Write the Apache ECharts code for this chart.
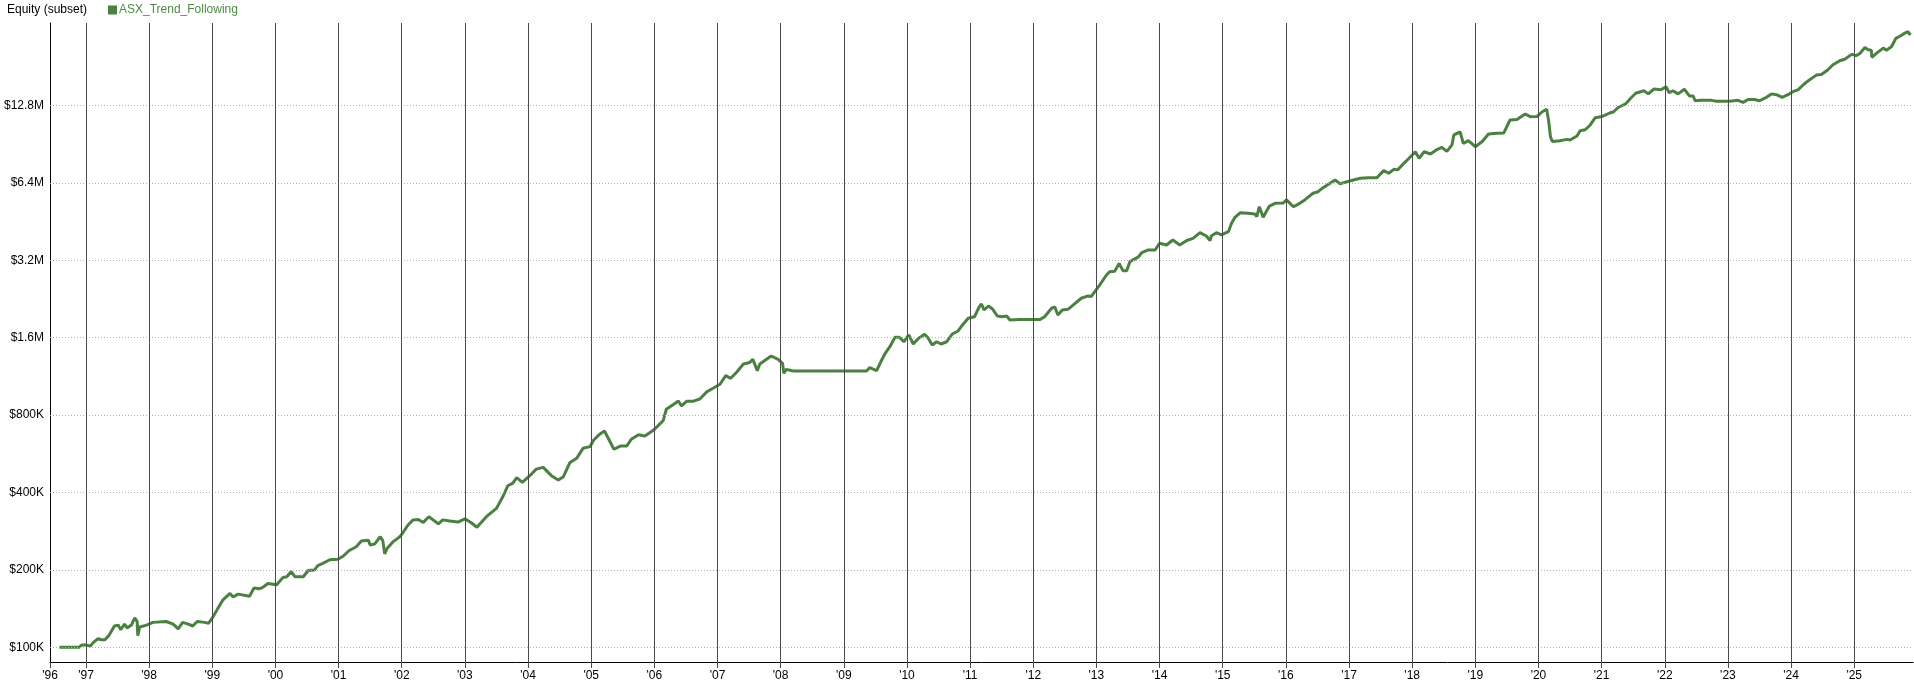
<!DOCTYPE html>
<html>
<head>
<meta charset="utf-8">
<script src="https://cdn.jsdelivr.net/npm/echarts@6/dist/echarts.min.js"></script>
<style>
html,body{margin:0;padding:0;background:#fff;}
#chart{width:1914px;height:684px;}
</style>
</head>
<body>
<div id="chart"></div>
<script>
// ---- data (decimal year, equity in $K) ----
const years = [
1996.58,1996.89,1996.93,1997.01,1997.07,1997.11,1997.19,1997.24,1997.30,1997.36,1997.45,1997.51,1997.55,1997.61,1997.65,1997.72,1997.77,1997.81,1997.82,1997.85,1997.96,
1998.06,1998.27,1998.38,1998.46,1998.53,1998.62,1998.69,1998.76,1998.88,1998.94,
1999.01,1999.09,1999.17,1999.28,1999.33,1999.41,1999.59,1999.66,1999.75,1999.80,1999.88,
2000.02,2000.12,2000.18,2000.25,2000.31,2000.44,2000.52,2000.62,2000.67,2000.75,2000.86,2000.99,
2001.07,2001.17,2001.28,2001.36,2001.47,2001.50,2001.57,2001.66,2001.70,2001.73,2001.77,2001.86,2001.97,
2002.03,2002.10,2002.18,2002.26,2002.34,2002.43,2002.58,2002.65,2002.76,2002.89,
2003.00,2003.10,2003.19,2003.34,2003.50,2003.60,2003.68,2003.76,2003.82,2003.91,
2004.04,2004.13,2004.24,2004.37,2004.48,2004.56,2004.66,2004.77,2004.87,2004.98,
2005.04,2005.14,2005.21,2005.27,2005.36,2005.46,2005.56,2005.64,2005.75,2005.85,2005.99,
2006.14,2006.19,2006.33,2006.38,2006.43,2006.51,2006.61,2006.72,2006.83,2006.93,
2007.04,2007.13,2007.21,2007.31,2007.41,2007.51,2007.56,2007.63,2007.67,2007.76,2007.85,2007.96,
2008.03,2008.05,2008.09,2008.20,2009.36,2009.41,2009.52,2009.60,2009.65,2009.73,2009.81,2009.88,2009.95,
2010.03,2010.10,2010.18,2010.28,2010.34,2010.40,2010.47,2010.54,2010.63,2010.72,2010.81,2010.88,2010.97,
2011.07,2011.14,2011.18,2011.22,2011.29,2011.36,2011.43,2011.51,2011.58,2011.63,2011.79,
2012.11,2012.18,2012.29,2012.34,2012.39,2012.46,2012.55,2012.63,2012.76,2012.87,2012.92,
2013.05,2013.16,2013.21,2013.29,2013.36,2013.42,2013.48,2013.53,2013.66,2013.72,2013.82,2013.93,
2014.00,2014.11,2014.21,2014.32,2014.43,2014.53,2014.64,2014.74,2014.80,2014.82,2014.90,2014.98,
2015.09,2015.14,2015.19,2015.28,2015.40,2015.51,2015.54,2015.58,2015.64,2015.67,2015.74,2015.83,2015.96,
2016.01,2016.12,2016.22,2016.30,2016.43,2016.51,2016.59,2016.70,2016.78,2016.86,2016.94,
2017.07,2017.18,2017.31,2017.44,2017.55,2017.63,2017.71,2017.77,2017.87,2017.95,
2018.05,2018.11,2018.19,2018.29,2018.40,2018.47,2018.55,2018.63,2018.66,2018.76,2018.81,2018.89,
2019.00,2019.11,2019.21,2019.34,2019.45,2019.55,2019.66,2019.79,2019.87,2019.98,
2020.06,2020.13,2020.16,2020.19,2020.22,2020.34,2020.45,2020.50,2020.61,2020.66,2020.74,2020.82,2020.90,
2021.01,2021.12,2021.19,2021.27,2021.38,2021.46,2021.54,2021.67,2021.74,2021.83,2021.94,
2022.02,2022.07,2022.13,2022.21,2022.31,2022.39,2022.45,2022.48,2022.58,2022.74,2022.82,
2023.03,2023.16,2023.24,2023.32,2023.42,2023.50,2023.61,2023.69,2023.77,2023.86,2023.95,
2024.03,2024.11,2024.19,2024.29,2024.40,2024.48,2024.58,2024.66,2024.77,2024.85,2024.96,
2025.03,2025.09,2025.17,2025.22,2025.27,2025.28,2025.35,2025.46,2025.51,2025.59,2025.66,2025.73,2025.78,2025.85,2025.89
];
const equityK = [
100,100,102,102,101,104,108,107,107,111,121,122,117,123,119,122,130,126,111,120,122,
125,126,123,118,125,123,121,126,125,124,
131,142,153,162,157,161,158,170,169,171,177,
175,187,188,197,188,188,199,200,208,212,219,220,
226,238,246,259,261,250,252,269,260,231,243,257,269,
282,299,313,314,306,322,302,313,310,307,
316,305,293,322,347,385,425,435,457,438,
468,493,501,465,447,461,522,543,594,603,
640,676,694,650,589,606,606,646,671,663,700,
761,843,889,908,868,905,905,924,985,1017,
1054,1139,1112,1180,1264,1282,1317,1191,1264,1310,1358,1317,
1272,1163,1205,1188,1188,1224,1191,1310,1383,1476,1606,1606,1543,
1640,1512,1590,1650,1590,1499,1543,1512,1543,1654,1699,1793,1903,
1930,2100,2163,2050,2125,2063,1943,1930,1943,1875,1885,
1885,1930,2082,2111,1960,2050,2063,2141,2278,2326,2315,
2563,2805,2890,2900,3113,2916,2916,3160,3290,3430,3510,3510,
3727,3670,3838,3670,3820,3896,4097,3977,3820,3977,4097,4015,
4135,4457,4686,4900,4880,4843,4727,5170,4700,4780,5200,5330,5350,
5495,5170,5330,5495,5832,5914,6130,6380,6567,6340,6440,
6567,6670,6700,6700,7140,6975,7225,7190,7625,7975,
8460,7975,8460,8290,8645,8800,8490,8990,9830,10100,9110,9340,
8850,9275,9920,9980,10000,11240,11300,11860,11580,11600,
12100,12370,11200,9680,9270,9340,9450,9400,9740,10200,10300,10750,11470,
11600,11940,12100,12600,12980,13650,14280,14600,14200,14840,14730,
15150,14350,14600,14200,14800,13940,13940,13350,13400,13400,13300,
13300,13400,13160,13500,13500,13350,13770,14200,14100,13770,14100,
14480,14730,15380,16090,16800,16900,17590,18390,19100,19360,20230,
20000,20400,21500,21100,21000,19700,20400,21400,21000,21660,23360,23850,24300,24800,24060
];
const seriesName = 'ASX_Trend_Following';
const chartTitle = 'Equity (subset)';
const yearTicks = [1997,1998,1999,2000,2001,2002,2003,2004,2005,2006,2007,2008,2009,2010,2011,2012,2013,2014,2015,2016,2017,2018,2019,2020,2021,2022,2023,2024,2025];
const yTickValues = [100000,200000,400000,800000,1600000,3200000,6400000,12800000];
const yTickLabels = ['$100K','$200K','$400K','$800K','$1.6M','$3.2M','$6.4M','$12.8M'];

// axis ranges
const xMin = 1996.43, xMax = 2025.931;
const yMinUnits = 0.8766, yMaxUnits = 267.9;  // in units of $100K
const UNIT = 100000;

const GREEN = '#4b8042';
const FONT = 'Liberation Sans, Arial, sans-serif';

const chart = echarts.init(document.getElementById('chart'), null, {renderer: 'canvas'});

const lineData = years.map((t, i) => [t, equityK[i] * 1000 / UNIT]);

const gridMarks = [];
yTickValues.forEach(v => gridMarks.push({
  yAxis: v / UNIT,
  lineStyle: {color: '#b0b0b0', width: 1, type: [1, 2]}
}));
yearTicks.forEach(y => gridMarks.push({
  xAxis: y,
  lineStyle: {color: '#4a4a4a', width: 1, type: 'solid'}
}));

const option = {
  animation: false,
  backgroundColor: '#ffffff',
  textStyle: {fontFamily: FONT},
  title: {
    text: chartTitle,
    left: 7, top: 4,
    padding: 0,
    textStyle: {fontSize: 12, fontWeight: 'normal', color: '#000', fontFamily: FONT}
  },
  legend: {
    data: [seriesName],
    left: 108, top: 4,
    padding: 0,
    icon: 'rect',
    itemWidth: 9, itemHeight: 9,
    itemStyle: {color: GREEN},
    textStyle: {fontSize: 12, color: '#4f8a45', fontFamily: FONT, padding: [0, 0, 0, -3]},
    selectedMode: false
  },
  grid: {left: 50, right: 1, top: 23, bottom: 22, containLabel: false, outerBoundsMode: 'none'},
  xAxis: {
    type: 'value',
    min: xMin, max: xMax,
    axisLine: {show: true, lineStyle: {color: '#000', width: 1}},
    axisTick: {show: true, customValues: [xMin].concat(yearTicks), length: 6, lineStyle: {color: '#4a4a4a'}},
    splitLine: {show: false},
    axisLabel: {
      customValues: [xMin].concat(yearTicks),
      margin: 8,
      fontSize: 12,
      color: '#000',
      fontFamily: FONT,
      formatter: v => "'" + String(Math.floor(v + 1e-9)).slice(2)
    }
  },
  yAxis: {
    type: 'log',
    logBase: 2,
    min: yMinUnits, max: yMaxUnits,
    axisLine: {show: true, lineStyle: {color: '#000', width: 1}},
    axisTick: {show: false},
    splitLine: {show: false},
    axisLabel: {
      margin: 6,
      fontSize: 12,
      color: '#000',
      fontFamily: FONT,
      showMinLabel: false,
      showMaxLabel: false,
      formatter: v => {
        const d = v * UNIT;
        for (let i = 0; i < yTickValues.length; i++) {
          if (Math.abs(d - yTickValues[i]) / yTickValues[i] < 1e-4) return yTickLabels[i];
        }
        return '';
      }
    }
  },
  series: [
    {
      name: '__grid',
      type: 'line',
      data: [[xMin, 1]],
      symbol: 'none',
      lineStyle: {width: 0, opacity: 0},
      silent: true,
      z: 1,
      markLine: {
        silent: true,
        symbol: ['none', 'none'],
        label: {show: false},
        emphasis: {disabled: true},
        animation: false,
        data: gridMarks
      }
    },
    {
      name: seriesName,
      type: 'line',
      data: lineData,
      symbol: 'none',
      showSymbol: false,
      lineStyle: {color: GREEN, width: 3},
      itemStyle: {color: GREEN},
      z: 3
    }
  ]
};
chart.setOption(option);
</script>
</body>
</html>
